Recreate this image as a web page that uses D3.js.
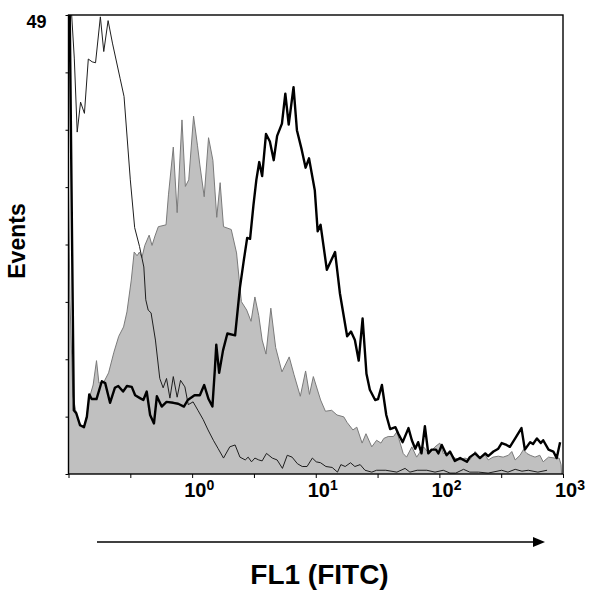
<!DOCTYPE html>
<html>
<head>
<meta charset="utf-8">
<script src="https://cdn.jsdelivr.net/npm/d3@7"></script>
<style>
  body { margin: 0; background: #fff; }
  svg { display: block; font-family: 'Liberation Sans', Arial, sans-serif; }
</style>
</head>
<body>
<svg id="chart" width="600" height="603"></svg>
<script>
/*
 * Histogram data, FL1 channel (0-1023, 4 log decades) vs events
 */
var grayChannels = [0, 3, 9, 16, 24, 32, 38, 43, 51, 58, 63, 74, 83, 94, 104, 114, 121, 130, 136, 142,
  147, 152, 158, 167, 173, 179, 186, 202, 207, 217, 225, 235, 242, 249, 259, 267, 272, 281, 290, 299,
  307, 314, 321, 337, 348, 358, 369, 378, 386, 394, 401, 409, 419, 429, 442, 457, 467, 480, 491, 499,
  507, 522, 532, 545, 556, 570, 577, 589, 597, 608, 616, 628, 638, 647, 653, 662, 673, 680, 693, 700,
  711, 721, 735, 747, 759, 769, 776, 790, 800, 811, 821, 831, 842, 852, 863, 869, 879, 890, 900, 911,
  918, 925, 935, 942, 949, 956, 966, 976, 983, 994, 1007, 1016, 1020, 1021];
var grayCounts = [30.3, 18.6, 8.4, 6.5, 5.3, 5.0, 6.3, 8.1, 9.5, 12.1, 9.7, 9.9, 10.8, 13.0, 14.7, 15.7, 17.3, 20.7, 23.7, 23.3,
  23.7, 23.1, 24.4, 25.5, 24.4, 25.4, 26.4, 26.6, 29.8, 34.9, 27.9, 37.8, 30.7, 31.4, 38.2, 35.1, 33.0, 29.6, 35.9, 33.5,
  27.4, 31.1, 26.4, 26.1, 23.6, 18.4, 17.5, 16.3, 18.9, 16.9, 14.3, 12.8, 17.7, 13.5, 10.9, 12.5, 10.6, 8.3, 11.0, 8.5,
  10.4, 7.9, 6.7, 6.8, 6.3, 6.1, 5.5, 4.7, 5.0, 3.3, 4.3, 2.9, 3.6, 3.3, 3.8, 4.0, 4.0, 4.5, 2.2, 1.8,
  2.9, 1.8, 2.9, 2.2, 2.9, 3.3, 2.2, 2.2, 1.7, 1.5, 1.7, 1.5, 2.4, 1.8, 2.0, 1.5, 1.8, 1.9, 1.8, 2.0,
  2.4, 1.5, 2.0, 2.6, 2.2, 2.0, 1.8, 2.0, 1.3, 1.8, 1.7, 1.7, 1.0, 0];

var thinChannels = [3, 12, 18, 25, 33, 41, 49, 56, 66, 73, 82, 91, 107, 115, 128, 137, 147, 156, 160, 165,
  171, 180, 189, 196, 203, 210, 217, 225, 232, 241, 248, 258, 268, 279, 289, 300, 310, 321, 334, 345,
  355, 366, 372, 379, 386, 394, 401, 410, 422, 432, 443, 453, 463, 474, 484, 494, 505, 513, 522, 533,
  546, 557, 564, 573, 584, 593, 604, 614, 628, 638, 657, 680, 697, 707, 722, 742, 759, 776, 790, 802,
  818, 831, 849, 869, 897, 910, 925, 939, 952, 972, 991];
var thinCounts = [52, 44.4, 36.5, 39.7, 38.5, 44.3, 44.0, 43.9, 48.8, 45.1, 48.4, 46.0, 42.2, 40.3, 31.4, 26.3, 24.3, 22.1, 18.6, 17.5,
  17.2, 14.3, 10.2, 9.2, 10.2, 8.1, 10.4, 8.2, 10.0, 9.3, 7.4, 7.7, 6.8, 5.8, 4.7, 3.6, 2.7, 1.7, 2.9, 3.1,
  1.8, 1.5, 1.8, 1.3, 1.7, 1.5, 1.4, 2.2, 1.7, 1.5, 0.6, 2.0, 1.8, 1.1, 0.8, 0.8, 1.7, 1.3, 1.2, 0.8,
  0.7, 0.2, 1.0, 0.8, 1.2, 0.8, 1.0, 0.4, 0.2, 0.4, 0.4, 0.2, 0.6, 0.2, 0.4, 0.4, 0.2, 0.4, 0.1, 0.1,
  0.5, 0.2, 0.2, 0.1, 0.4, 0.2, 0.5, 0.3, 0.4, 0.2, 0.4];

var thickChannels = [2, 11, 16, 24, 32, 38, 43, 48, 58, 69, 76, 86, 96, 103, 113, 121, 131, 138, 148, 155,
  162, 169, 177, 183, 193, 203, 217, 227, 239, 247, 261, 272, 281, 290, 298, 303, 306, 312, 320, 329,
  345, 355, 363, 370, 376, 383, 389, 395, 401, 409, 417, 425, 432, 442, 449, 456, 466, 473, 483, 491,
  498, 510, 516, 522, 535, 552, 562, 577, 585, 593, 601, 609, 617, 624, 635, 641, 649, 658, 666, 677,
  683, 692, 704, 711, 718, 724, 731, 738, 745, 752, 761, 766, 773, 783, 790, 800, 811, 825, 831, 842,
  852, 863, 869, 880, 890, 897, 907, 914, 925, 938, 945, 956, 962, 970, 978, 983, 994, 1004, 1011, 1018];
var thickCounts = [52, 6.8, 6.5, 5.2, 5.0, 6.1, 8.5, 8.0, 8.0, 9.9, 9.7, 7.6, 9.2, 9.4, 8.8, 9.4, 9.3, 8.4, 8.1, 7.9,
  8.8, 6.3, 5.4, 8.3, 7.2, 7.7, 7.6, 7.5, 7.2, 7.9, 8.4, 8.4, 9.5, 8.0, 7.2, 11.1, 13.8, 10.8, 13.2, 15.0,
  14.8, 19.9, 22.8, 25.2, 25.1, 28.7, 31.4, 33.3, 31.8, 36.3, 35.5, 33.5, 36.1, 37.4, 40.6, 37.3, 41.3, 36.7, 34.6, 32.7,
  33.7, 30.3, 25.9, 26.6, 21.8, 23.7, 19.3, 14.7, 15.2, 14.3, 12.1, 16.6, 10.7, 9.0, 7.9, 8.0, 9.5, 6.3, 4.8, 5.0,
  4.3, 3.4, 4.9, 3.6, 2.7, 3.4, 2.2, 5.1, 2.2, 2.6, 2.6, 2.2, 3.1, 2.0, 2.4, 1.4, 1.7, 1.3, 1.8, 2.2,
  1.7, 2.2, 1.9, 2.4, 2.7, 3.3, 3.1, 2.9, 3.8, 4.9, 2.6, 3.4, 3.2, 3.8, 3.3, 3.6, 2.6, 2.4, 1.7, 3.4];

// axis ticks
var halfDecadeChannels = [0, 128, 256, 384, 512, 640, 768, 896, 1024];
var decadeChannels = [256, 512, 768, 1024];
var decadeExponents = ['0', '1', '2', '3'];
var yTicks = [0, 6.125, 12.25, 18.375, 24.5, 30.625, 36.75, 42.875, 49];

var svg = d3.select('#chart');
var box = { left: 68.5, right: 563, top: 15, bottom: 474 };

var x = d3.scaleLinear().domain([0, 1024]).range([box.left, box.right]);
var y = d3.scaleLinear().domain([0, 49]).range([box.bottom, box.top]);

function toPoints(channels, counts) {
  return channels.map(function(c, i) {
    return { ch: c, n: counts[i] };
  });
}

var area = d3.area()
  .x(function(d) { return x(d.ch); })
  .y0(y(0))
  .y1(function(d) { return y(d.n); });

var line = d3.line()
  .x(function(d) { return x(d.ch); })
  .y(function(d) { return y(d.n); });

svg.append('defs').append('clipPath')
  .attr('id', 'plot-clip')
  .append('rect')
  .attr('x', box.left)
  .attr('y', box.top)
  .attr('width', box.right - box.left)
  .attr('height', box.bottom - box.top);

var plot = svg.append('g').attr('clip-path', 'url(#plot-clip)');

var grayData = toPoints(grayChannels, grayCounts);
plot.append('path')
  .datum(grayData)
  .attr('d', area)
  .attr('fill', '#c0c0c0');
plot.append('path')
  .datum(grayData)
  .attr('d', line)
  .attr('fill', 'none')
  .attr('stroke', '#7a7a7a')
  .attr('stroke-width', 1);

plot.append('path')
  .datum(toPoints(thinChannels, thinCounts))
  .attr('d', line)
  .attr('fill', 'none')
  .attr('stroke', '#1e1e1e')
  .attr('stroke-width', 1);

plot.append('path')
  .datum(toPoints(thickChannels, thickCounts))
  .attr('d', line)
  .attr('fill', 'none')
  .attr('stroke', '#000')
  .attr('stroke-width', 2.4)
  .attr('stroke-linejoin', 'round');

/*
 * Frame and axes
 */
svg.append('rect')
  .attr('x', box.left)
  .attr('y', box.top)
  .attr('width', box.right - box.left)
  .attr('height', box.bottom - box.top)
  .attr('fill', 'none')
  .attr('stroke', '#000')
  .attr('stroke-width', 1.4);

var yAxis = svg.append('g')
  .attr('transform', 'translate(' + box.left + ',0)')
  .call(d3.axisLeft(y)
    .tickValues(yTicks)
    .tickSize(3)
    .tickSizeOuter(0)
    .tickPadding(19)
    .tickFormat(function(d) { return d === 49 ? '49' : ''; }));
yAxis.select('.domain').remove();
yAxis.selectAll('text')
  .attr('dy', '0.68em')
  .attr('font-size', 18)
  .attr('font-weight', 'bold')
  .attr('font-family', null)
  .attr('fill', '#000');

var xAxis = svg.append('g')
  .attr('transform', 'translate(0,' + box.bottom + ')')
  .call(d3.axisBottom(x)
    .tickValues(halfDecadeChannels)
    .tickSize(4)
    .tickSizeOuter(0)
    .tickFormat(''));
xAxis.select('.domain').remove();

var decadeLabels = svg.append('g')
  .selectAll('text')
  .data(decadeChannels)
  .enter().append('text')
  .attr('x', function(d) { return x(d) - 8; })
  .attr('y', 497)
  .attr('font-size', 20)
  .attr('font-weight', 'bold');
decadeLabels.append('tspan').text('10');
decadeLabels.append('tspan')
  .attr('dy', -7)
  .attr('font-size', 14)
  .text(function(d, i) { return decadeExponents[i]; });

// arrow under the axis
svg.append('line')
  .attr('x1', 97)
  .attr('x2', 536)
  .attr('y1', 542)
  .attr('y2', 542)
  .attr('stroke', '#000')
  .attr('stroke-width', 1.5);
svg.append('path')
  .attr('d', 'M533,537L545,542L533,547Z')
  .attr('fill', '#000');

svg.append('text')
  .attr('x', 319.5)
  .attr('y', 584)
  .attr('text-anchor', 'middle')
  .attr('font-size', 28)
  .attr('font-weight', 'bold')
  .text('FL1 (FITC)');

svg.append('text')
  .attr('transform', 'translate(25,241) rotate(-90)')
  .attr('text-anchor', 'middle')
  .attr('font-size', 23)
  .attr('font-weight', 'bold')
  .text('Events');
</script>
</body>
</html>
